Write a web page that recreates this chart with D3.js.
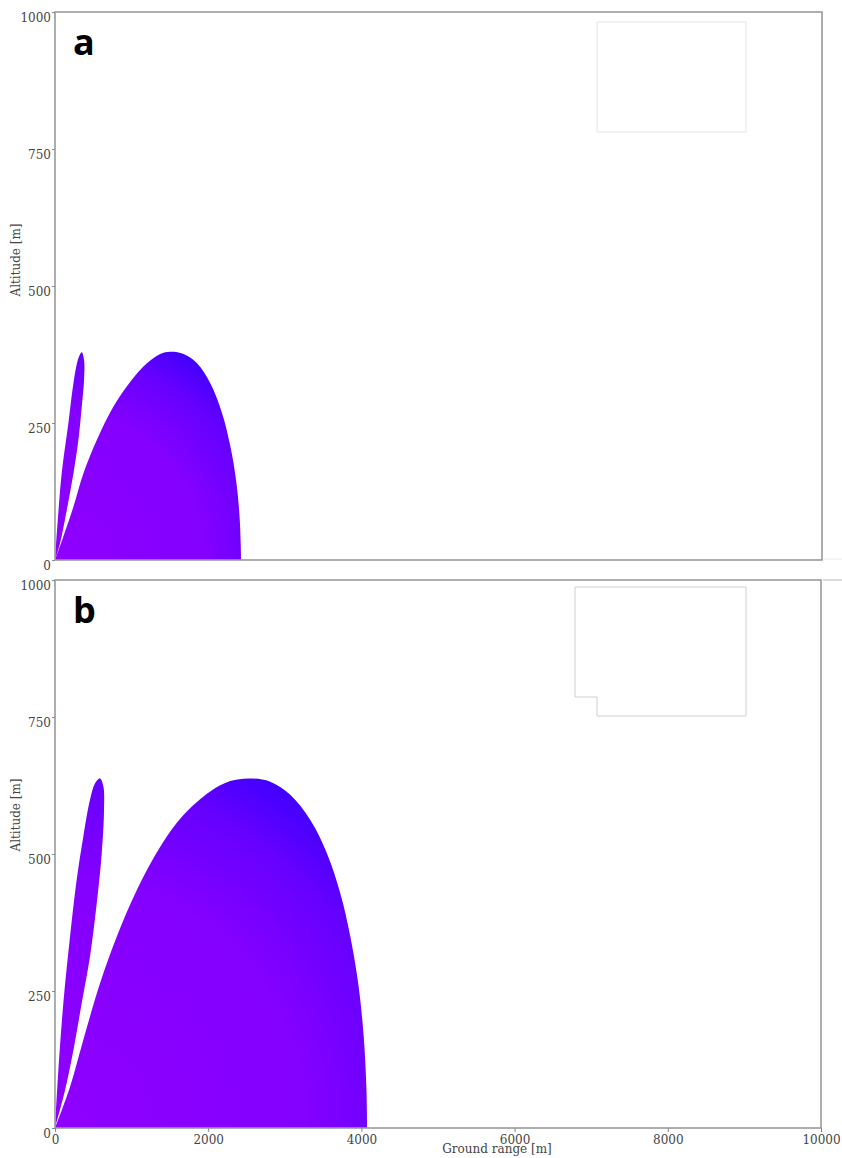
<!DOCTYPE html>
<html>
<head>
<meta charset="utf-8">
<script src="https://cdn.jsdelivr.net/npm/d3@7"></script>
<style>
  body { margin: 0; background: #fff; }
  svg { display: block; }
</style>
</head>
<body>
<svg id="chart" width="842" height="1158"></svg>
<script>
// tick values
const xTicks = [0, 2000, 4000, 6000, 8000, 10000];
const yTicks = [0, 250, 500, 750, 1000];

// lobe outlines: [ground range m, altitude m]
const lobeAMain = [[0,0],[109,43],[240,97],[370,158],[545,219],[762,280],[980,325],[1198,359],[1372,376],[1503,380],[1677,376],[1852,359],[2026,322],[2178,268],[2287,207],[2366,140],[2409,73],[2427,0]];
const lobeASide = [[0,0],[30,61],[87,158],[174,249],[240,322],[305,368],[349,379],[379,365],[379,329],[349,280],[305,219],[240,158],[153,91],[65,30],[0,0]];
const lobeBMain = [[0,0],[196,75],[370,161],[588,264],[806,349],[1067,434],[1372,513],[1677,571],[2026,614],[2287,633],[2527,638],[2810,632],[3071,608],[3333,562],[3551,501],[3725,428],[3856,349],[3964,258],[4030,167],[4065,75],[4075,0]];
const lobeBSide = [[0,0],[44,106],[109,228],[196,349],[283,453],[370,532],[457,599],[523,629],[588,638],[632,623],[640,580],[610,501],[545,410],[457,313],[349,228],[240,142],[131,69],[0,0]];

const panels = [
    { id: 'a', top: 12, bottom: 560, right: 822, lobes: [lobeAMain, lobeASide], xLabels: false, yLabelY: 260,
      legend: [[597,22],[746,22],[746,132],[597,132]], legendStroke: '#e4e4e4' },
    { id: 'b', top: 580, bottom: 1128, right: 821, lobes: [lobeBMain, lobeBSide], xLabels: true, yLabelY: 815,
      legend: [[575,587],[746,587],[746,716],[597,716],[597,697],[575,697]], legendStroke: '#d0d0d0' }
];

const svg = d3.select('#chart');
const left = 55;
const defs = svg.append('defs');

panels.forEach(p => {
    const x = d3.scaleLinear().domain([0, 10000]).range([left, p.right]);
    const y = d3.scaleLinear().domain([0, 1000]).range([p.bottom, p.top]);

    // radial colour: purple near the origin, blue only towards the far edge
    const maxDist = d3.max(p.lobes.flat(), d => Math.hypot(x(d[0]) - x(0), y(d[1]) - y(0)));
    const grad = defs.append('radialGradient')
        .attr('id', 'grad-' + p.id)
        .attr('gradientUnits', 'userSpaceOnUse')
        .attr('cx', x(0)).attr('cy', y(0)).attr('r', maxDist);
    [[0, '#8f00ff'], [0.62, '#8400ff'], [0.86, '#6600ff'], [1, '#4200ff']].forEach(s => {
        grad.append('stop').attr('offset', s[0]).attr('stop-color', s[1]);
    });

    const line = d3.line()
        .x(d => x(d[0]))
        .y(d => y(d[1]))
        .curve(d3.curveCatmullRom);

    p.lobes.forEach(lobe => {
        svg.append('path')
            .attr('d', line(lobe) + 'Z')
            .attr('fill', `url(#grad-${p.id})`);
    });

    // frame
    svg.append('rect')
        .attr('x', left).attr('y', p.top)
        .attr('width', p.right - left).attr('height', p.bottom - p.top)
        .attr('fill', 'none')
        .attr('stroke', '#9a9a9a')
        .attr('stroke-width', 1.6);

    // empty legend box
    svg.append('polygon')
        .attr('points', p.legend.map(d => d.join(',')).join(' '))
        .attr('fill', 'none')
        .attr('stroke', p.legendStroke)
        .attr('stroke-width', 1);

    // y axis
    const yAxis = svg.append('g')
        .attr('transform', `translate(${left},0)`)
        .call(d3.axisLeft(y).tickValues(yTicks).tickFormat(d3.format('d')).tickSize(3).tickPadding(1));
    yAxis.select('.domain').remove();
    yAxis.selectAll('line').attr('stroke', '#888');
    yAxis.selectAll('text')
        .attr('dy', '0.75em')
        .style('font-family', 'DejaVu Serif')
        .style('font-size', '12px')
        .attr('fill', '#444');

    if (p.xLabels) {
        const xAxis = svg.append('g')
            .attr('transform', `translate(0,${p.bottom})`)
            .call(d3.axisBottom(x).tickValues(xTicks).tickFormat(d3.format('d')).tickSize(4).tickPadding(3));
        xAxis.select('.domain').remove();
        xAxis.selectAll('line').attr('stroke', '#888');
        xAxis.selectAll('text')
            .style('font-family', 'DejaVu Serif')
            .style('font-size', '12px')
            .attr('fill', '#444');

        // sits over the 6000 label, as in the original
        svg.append('text')
            .attr('x', 497).attr('y', 1153)
            .attr('text-anchor', 'middle')
            .style('font-family', 'DejaVu Serif')
            .style('font-size', '12px')
            .attr('fill', '#444')
            .text('Ground range [m]');
    }

    svg.append('text')
        .attr('transform', `translate(20,${p.yLabelY}) rotate(-90)`)
        .attr('text-anchor', 'middle')
        .style('font-family', 'DejaVu Serif')
        .style('font-size', '12px')
        .attr('fill', '#444')
        .text('Altitude [m]');

    // panel letter
    svg.append('text')
        .attr('x', 73).attr('y', p.top + 43)
        .style('font-family', 'Open Sans')
        .style('font-weight', 'bold')
        .style('font-size', '36px')
        .attr('fill', '#000')
        .text(p.id);
});

// stray edge lines between the two panels
svg.append('line').attr('x1', 823).attr('x2', 842).attr('y1', 580).attr('y2', 580)
    .attr('stroke', '#c4c4c4').attr('stroke-width', 1.2);
svg.append('line').attr('x1', 823).attr('x2', 842).attr('y1', 559).attr('y2', 559)
    .attr('stroke', '#ececec').attr('stroke-width', 1);
</script>
</body>
</html>
